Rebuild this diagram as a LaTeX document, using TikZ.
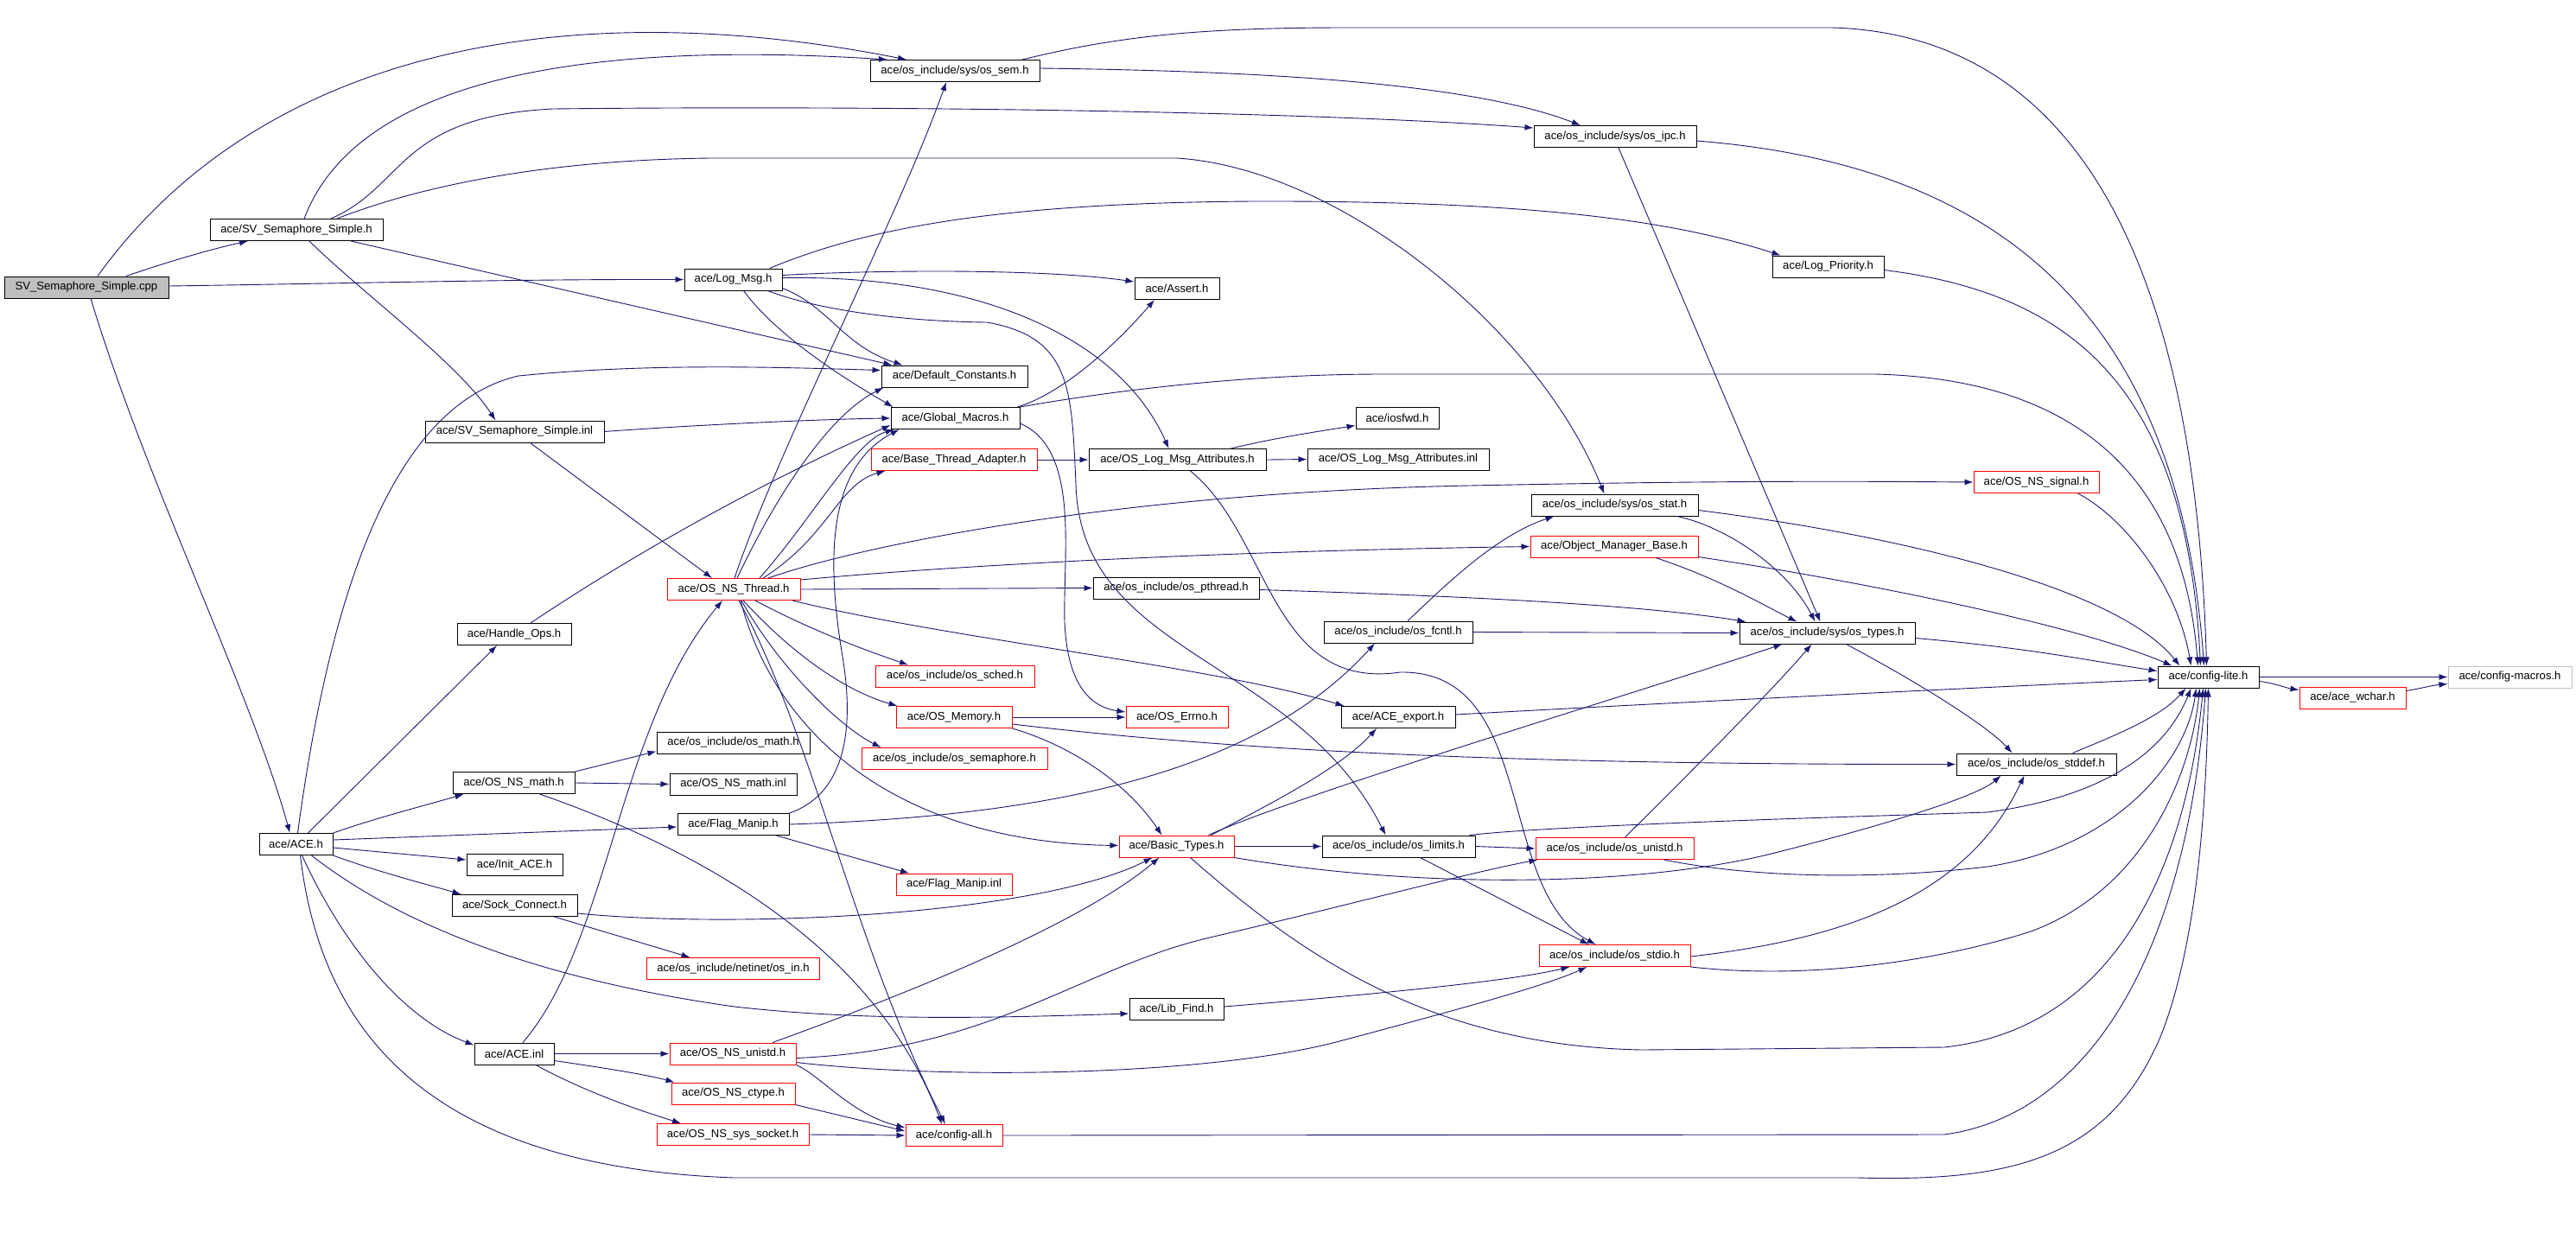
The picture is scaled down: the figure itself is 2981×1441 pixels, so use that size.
\documentclass[tikz,border=0pt]{standalone}
\usepackage{fontspec}
\setmainfont{Liberation Sans}
\usetikzlibrary{arrows.meta}
\definecolor{edgec}{RGB}{25,25,112}
\definecolor{graybox}{RGB}{191,191,191}
\newcommand\nodefont{\fontsize{13.1}{15}\selectfont}
\begin{document}
\begin{tikzpicture}[x=1pt,y=-1pt,
  nb/.style={draw=black, line width=1pt, fill=white, inner sep=0pt, minimum height=25pt, font=\nodefont, text=black},
  rb/.style={nb, draw=red},
  edg/.style={draw=edgec, line width=0.9pt, -{Latex[length=10pt,width=7pt]}}]
\useasboundingbox (0,0) rectangle (2981,1441);
% ---------------- nodes ----------------
\node[nb, fill=graybox, minimum width=190pt] (cpp) at (100,332.5) {SV\_Semaphore\_Simple.cpp};
\node[nb, minimum width=200pt] (svh) at (343,266) {ace/SV\_Semaphore\_Simple.h};
\node[nb, minimum width=113pt] (logmsg) at (848.5,323.5) {ace/Log\_Msg.h};
\node[nb, minimum width=85pt] (ace) at (342.5,977) {ace/ACE.h};
\node[nb, minimum width=196pt] (sem) at (1105,82) {ace/os\_include/sys/os\_sem.h};
\node[nb, minimum width=188pt] (ipc) at (1869,158) {ace/os\_include/sys/os\_ipc.h};
\node[nb, minimum width=193pt] (stat) at (1868.5,584.5) {ace/os\_include/sys/os\_stat.h};
\node[nb, minimum width=169pt] (defc) at (1104.5,435.5) {ace/Default\_Constants.h};
\node[nb, minimum width=207pt] (svinl) at (595.5,499.5) {ace/SV\_Semaphore\_Simple.inl};
\node[nb, minimum width=149pt] (gm) at (1105.5,484) {ace/Global\_Macros.h};
\node[rb, minimum width=154pt] (thread) at (849,682) {ace/OS\_NS\_Thread.h};
\node[nb, minimum width=98pt] (assert) at (1362,334) {ace/Assert.h};
\node[nb, minimum width=129pt] (logprio) at (2115.5,308.5) {ace/Log\_Priority.h};
\node[nb, minimum width=205pt] (olma) at (1362.5,532) {ace/OS\_Log\_Msg\_Attributes.h};
\node[rb, minimum width=118pt] (errno) at (1362,830) {ace/OS\_Errno.h};
\node[nb, minimum width=117pt] (configlite) at (2555.5,783.5) {ace/config-lite.h};
\node[rb, minimum width=192pt] (bta) at (1104,532) {ace/Base\_Thread\_Adapter.h};
\node[nb, minimum width=96pt] (iosfwd) at (1617,483.5) {ace/iosfwd.h};
\node[nb, minimum width=210pt] (olmainl) at (1618,531.5) {ace/OS\_Log\_Msg\_Attributes.inl};
\node[nb, minimum width=185pt] (stddef) at (2356.5,884.5) {ace/os\_include/os\_stddef.h};
\node[rb, minimum width=145pt] (signal) at (2356.5,558) {ace/OS\_NS\_signal.h};
\node[rb, minimum width=194pt] (omb) at (1868,632.5) {ace/Object\_Manager\_Base.h};
\node[nb, minimum width=192pt] (pthread) at (1361,680.5) {ace/os\_include/os\_pthread.h};
\node[rb, minimum width=184pt] (sched) at (1105,782.5) {ace/os\_include/os\_sched.h};
\node[rb, minimum width=134pt] (memory) at (1104,830) {ace/OS\_Memory.h};
\node[rb, minimum width=215pt] (semaphore) at (1104.5,878) {ace/os\_include/os\_semaphore.h};
\node[rb, minimum width=133pt] (basic) at (1361.5,979.5) {ace/Basic\_Types.h};
\node[nb, minimum width=132pt] (export) at (1618,830) {ace/ACE\_export.h};
\node[rb, minimum width=112pt] (configall) at (1104,1314) {ace/config-all.h};
\node[nb, minimum width=203pt] (types) at (2114.5,732.5) {ace/os\_include/sys/os\_types.h};
\node[nb, minimum width=172pt] (fcntl) at (1618,731.5) {ace/os\_include/os\_fcntl.h};
\node[nb, minimum width=177pt] (limits) at (1618.5,979.5) {ace/os\_include/os\_limits.h};
\node[rb, minimum width=183pt] (unistd) at (1868.5,982) {ace/os\_include/os\_unistd.h};
\node[rb, minimum width=175pt] (stdio) at (1868.5,1106) {ace/os\_include/os\_stdio.h};
\node[nb, draw=graybox, minimum width=143pt] (macros) at (2904.5,783.5) {ace/config-macros.h};
\node[rb, minimum width=123pt] (wchar) at (2722.5,807.5) {ace/ace\_wchar.h};
\node[nb, minimum width=132pt] (handle) at (595,734) {ace/Handle\_Ops.h};
\node[nb, minimum width=141pt] (nsmath) at (594.5,906) {ace/OS\_NS\_math.h};
\node[nb, minimum width=177pt] (osmath) at (848.5,859.5) {ace/os\_include/os\_math.h};
\node[nb, minimum width=147pt] (nsmathinl) at (848.5,907.5) {ace/OS\_NS\_math.inl};
\node[nb, minimum width=129pt] (flag) at (848.5,954) {ace/Flag\_Manip.h};
\node[rb, minimum width=134pt] (flaginl) at (1104,1023.5) {ace/Flag\_Manip.inl};
\node[nb, minimum width=111pt] (initace) at (595.5,1001) {ace/Init\_ACE.h};
\node[nb, minimum width=145pt] (sock) at (595.5,1048) {ace/Sock\_Connect.h};
\node[rb, minimum width=200pt] (netin) at (848.5,1121) {ace/os\_include/netinet/os\_in.h};
\node[nb, minimum width=109pt] (libfind) at (1361.5,1168) {ace/Lib\_Find.h};
\node[nb, minimum width=92pt] (aceinl) at (595,1219.5) {ace/ACE.inl};
\node[rb, minimum width=146pt] (nsunistd) at (848,1219.5) {ace/OS\_NS\_unistd.h};
\node[rb, minimum width=143pt] (ctype) at (848.5,1265.5) {ace/OS\_NS\_ctype.h};
\node[rb, minimum width=176pt] (socket) at (848,1313) {ace/OS\_NS\_sys\_socket.h};
% ---------------- edges ----------------
% cpp
\draw[edg] ([xshift=46pt]cpp.north) .. controls (200,301) and (250,287) .. ([xshift=-56pt]svh.south);
\draw[edg] ([yshift=1.5pt]cpp.east) .. controls (400,328) and (600,323) .. (logmsg.west);
\draw[edg] ([xshift=5pt]cpp.south) .. controls (170,560) and (290,800) .. ([xshift=-7pt]ace.north);
\draw[edg] ([xshift=13pt]cpp.north) .. controls (300,60) and (650,-10) .. ([xshift=-56pt]sem.north);
% svh
\draw[edg] ([xshift=9pt]svh.north) .. controls (410,100) and (650,45) .. ([xshift=-78pt]sem.north);
\draw[edg] ([xshift=40pt]svh.north) .. controls (470,215) and (460,135) .. (640,126) .. controls (1000,122) and (1500,128) .. ([yshift=10pt]ipc.west);
\draw[edg] ([xshift=47pt]svh.north) .. controls (500,210) and (650,185) .. (822,183) -- (1362,183) .. controls (1550,195) and (1780,380) .. ([xshift=-12pt]stat.north);
\draw[edg] ([xshift=63pt]svh.south) -- ([xshift=-72pt]defc.north);
\draw[edg] ([xshift=15pt]svh.south) .. controls (420,340) and (530,420) .. ([xshift=-22pt]svinl.north);
% logmsg
\draw[edg] ([xshift=42pt]logmsg.north) .. controls (1000,265) and (1150,235) .. (1450,233) .. controls (1800,232) and (1950,260) .. ([xshift=-55pt]logprio.north);
\draw[edg] ([yshift=5pt]logmsg.east) .. controls (1000,313) and (1200,310) .. ([yshift=8pt]assert.west);
\draw[edg] ([yshift=-10pt]logmsg.east) .. controls (960,355) and (975,400) .. ([xshift=-60pt]defc.north);
\draw[edg] ([xshift=12pt]logmsg.south) .. controls (900,390) and (980,440) .. ([xshift=3pt]gm.north west);
\draw[edg] ([yshift=2pt]logmsg.east) .. controls (1150,318) and (1300,400) .. ([xshift=-10pt]olma.north);
\draw[edg] ([xshift=40pt]logmsg.south) .. controls (950,360) and (1050,372) .. (1142,373) .. controls (1240,390) and (1240,450) .. (1245,560) .. controls (1250,760) and (1500,760) .. ([xshift=-15pt]limits.north);
% ace
\draw[edg] ([xshift=2pt]ace.north) .. controls (380,700) and (450,470) .. (600,435) .. controls (750,420) and (900,425) .. ([yshift=7pt]defc.west);
\draw[edg] ([xshift=14pt]ace.north) -- ([xshift=-20pt]handle.south);
\draw[edg] (ace.north east) .. controls (440,945) and (500,930) .. ([xshift=-58pt]nsmath.south);
\draw[edg] ([yshift=5pt]ace.east) -- ([yshift=-3pt]flag.west);
\draw[edg] ([yshift=-4pt]ace.east) -- ([yshift=6pt]initace.west);
\draw[edg] (ace.south east) .. controls (440,1010) and (500,1025) .. ([xshift=-62pt]sock.north);
\draw[edg] ([xshift=18pt]ace.south) .. controls (450,1060) and (600,1130) .. (850,1165) .. controls (1000,1182) and (1150,1178) .. ([yshift=-5pt]libfind.west);
\draw[edg] ([xshift=7pt]ace.south) .. controls (400,1100) and (470,1180) .. ([yshift=10pt]aceinl.west);
\draw[edg] ([xshift=5pt]ace.south) .. controls (370,1180) and (480,1350) .. (850,1363) -- (2150,1363) .. controls (2330,1368) and (2440,1340) .. (2500,1200) .. controls (2540,1100) and (2553,950) .. (configlite.south);
% sem, ipc
\draw[edg] ([yshift=3pt]sem.east) .. controls (1450,82) and (1700,95) .. ([xshift=-40pt]ipc.north);
\draw[edg] ([xshift=78pt]sem.north) .. controls (1300,40) and (1400,32) .. (1560,32) -- (2120,32) .. controls (2400,40) and (2540,300) .. ([xshift=-2pt]configlite.north);
\draw[edg] ([yshift=-5pt]ipc.east) .. controls (2300,190) and (2520,350) .. ([xshift=-5pt]configlite.north);
\draw[edg] ([xshift=4pt]ipc.south) -- ([xshift=-8pt]types.north);
% svinl, handle
\draw[edg] (svinl.east) .. controls (800,492) and (950,485) .. (gm.west);
\draw[edg] ([xshift=18pt]svinl.south) -- ([xshift=-25pt]thread.north);
\draw[edg] ([xshift=19pt]handle.north) .. controls (750,630) and (900,550) .. ([yshift=-8pt]gm.west);
% gm
\draw[edg] ([xshift=-3pt]gm.north east) .. controls (1230,455) and (1290,400) .. ([xshift=-26pt]assert.south);
\draw[edg] (gm.north east) .. controls (1300,450) and (1450,433) .. (1600,433) -- (2170,433) .. controls (2450,440) and (2530,600) .. ([xshift=-12pt]configlite.north);
\draw[edg] ([yshift=-6pt]gm.east) .. controls (1250,520) and (1230,640) .. (1232,720) .. controls (1235,790) and (1260,818) .. ([yshift=6pt]errno.west);
% thread
\draw[edg] ([xshift=1pt]thread.north) .. controls (900,520) and (1040,250) .. ([xshift=-10pt]sem.south);
\draw[edg] ([xshift=4pt]thread.north) .. controls (900,570) and (960,480) .. ([xshift=3pt]defc.south west);
\draw[edg] ([xshift=30pt]thread.north) .. controls (940,600) and (990,510) .. ([xshift=4pt]gm.south west);
\draw[edg] ([xshift=34pt]thread.north) .. controls (960,620) and (970,560) .. ([xshift=17pt]bta.south west);
\draw[edg] ([xshift=40pt]thread.north) .. controls (1000,630) and (1300,570) .. (1700,562) .. controls (2000,556) and (2150,557) .. (signal.west);
\draw[edg] ([yshift=11pt]thread.east) .. controls (1100,655) and (1400,638) .. (omb.west);
\draw[edg] (thread.east) -- (pthread.west);
\draw[edg] ([xshift=68pt]thread.south) .. controls (1100,740) and (1400,770) .. ([xshift=4pt]export.north west);
\draw[edg] ([xshift=25pt]thread.south) .. controls (940,730) and (1000,752) .. ([xshift=-54pt]sched.north);
\draw[edg] ([xshift=11pt]thread.south) .. controls (920,760) and (980,800) .. ([xshift=2pt]memory.north west);
\draw[edg] ([xshift=9pt]thread.south) .. controls (900,770) and (970,840) .. ([xshift=-85pt]semaphore.north);
\draw[edg] ([xshift=8pt]thread.south) .. controls (900,860) and (1050,975) .. ([yshift=1pt]basic.west);
\draw[edg] ([xshift=6pt]thread.south) .. controls (940,850) and (990,1100) .. ([xshift=-10pt]configall.north);
% bta, olma
\draw[edg] (bta.east) -- (olma.west);
\draw[edg] ([xshift=62pt]olma.north) .. controls (1470,508) and (1520,500) .. ([yshift=-9pt]iosfwd.west);
\draw[edg] (olma.east) -- (olmainl.west);
\draw[edg] ([xshift=15pt]olma.south) .. controls (1470,620) and (1470,800) .. (1620,778) .. controls (1780,775) and (1730,1030) .. ([xshift=-22pt]stdio.north);
% logprio, stat, fcntl, omb, pthread
\draw[edg] ([yshift=-4pt]logprio.east) .. controls (2400,340) and (2530,450) .. ([xshift=-9pt]configlite.north);
\draw[edg] ([yshift=-6pt]stat.east) .. controls (2200,620) and (2450,680) .. ([xshift=-33pt]configlite.north);
\draw[edg] ([xshift=72pt]stat.south) .. controls (2000,610) and (2070,660) .. ([xshift=-14pt]types.north);
\draw[edg] ([xshift=11pt]fcntl.north) .. controls (1670,680) and (1730,620) .. ([xshift=-70pt]stat.south);
\draw[edg] (fcntl.east) -- (types.west);
\draw[edg] ([xshift=48pt]omb.south) .. controls (1990,670) and (2040,700) .. ([xshift=-35pt]types.north);
\draw[edg] ([yshift=-12pt]omb.east) .. controls (2200,680) and (2420,730) .. ([xshift=-42pt]configlite.north);
\draw[edg] ([yshift=-2pt]pthread.east) .. controls (1700,690) and (1900,700) .. ([xshift=8pt]types.north west);
% memory
\draw[edg] (memory.east) -- (errno.west);
\draw[edg] (memory.south east) .. controls (1230,860) and (1300,900) .. ([xshift=-17pt]basic.north);
\draw[edg] ([yshift=-8pt]memory.east) .. controls (1400,865) and (1700,885) .. (stddef.west);
% basic
\draw[edg] (basic.east) -- (limits.west);
\draw[edg] ([xshift=37pt]basic.north) .. controls (1500,920) and (1900,800) .. ([xshift=-52pt]types.south);
\draw[edg] ([xshift=40pt]basic.north) .. controls (1470,930) and (1550,890) .. ([xshift=-25pt]export.south);
\draw[edg] (basic.south east) .. controls (1650,1030) and (1900,1025) .. (2050,988) .. controls (2200,950) and (2290,920) .. ([xshift=-41pt]stddef.south);
\draw[edg] ([xshift=16pt]basic.south) .. controls (1500,1100) and (1650,1210) .. (1900,1215) -- (2250,1212) .. controls (2450,1190) and (2530,1000) .. ([xshift=-6pt]configlite.south);
% types, export, stddef, signal
\draw[edg] ([yshift=-6pt]types.east) .. controls (2350,750) and (2420,765) .. ([yshift=7pt]configlite.west);
\draw[edg] ([xshift=22pt]types.south) .. controls (2220,790) and (2300,840) .. ([xshift=-28pt]stddef.north);
\draw[edg] ([yshift=3pt]export.east) .. controls (1900,815) and (2300,795) .. ([yshift=-3pt]configlite.west);
\draw[edg] ([xshift=42pt]stddef.north) .. controls (2450,850) and (2500,830) .. ([xshift=-26pt]configlite.south);
\draw[edg] ([xshift=48pt]signal.south) .. controls (2460,600) and (2520,680) .. ([xshift=-20pt]configlite.north);
% limits, unistd, stdio
\draw[edg] (limits.east) -- (unistd.west);
\draw[edg] ([xshift=25pt]limits.south) -- ([xshift=-30pt]stdio.north);
\draw[edg] ([xshift=82pt]limits.north) .. controls (1800,955) and (2150,945) .. (2300,940) .. controls (2450,920) and (2510,860) .. ([xshift=-20pt]configlite.south);
\draw[edg] ([xshift=12pt]unistd.north) .. controls (1950,900) and (2050,800) .. ([xshift=-18pt]types.south);
\draw[edg] ([xshift=57pt]unistd.south) .. controls (2050,1020) and (2200,1015) .. (2300,1003) .. controls (2450,980) and (2530,880) .. ([xshift=-14pt]configlite.south);
\draw[edg] ([yshift=-1pt]stdio.east) .. controls (2150,1085) and (2280,1030) .. ([xshift=-14pt]stddef.south);
\draw[edg] (stdio.south east) .. controls (2100,1135) and (2250,1110) .. (2350,1078) .. controls (2480,1030) and (2535,900) .. ([xshift=-10pt]configlite.south);
% nsmath
\draw[edg] (nsmath.north east) -- ([yshift=-10pt]osmath.west);
\draw[edg] (nsmath.east) -- (nsmathinl.west);
\draw[edg] ([xshift=30pt]nsmath.south) .. controls (800,980) and (1010,1090) .. ([xshift=-14pt]configall.north);
% flag
\draw[edg] (flag.north east) .. controls (975,920) and (990,850) .. (975,760) .. controls (955,640) and (960,540) .. ([xshift=10pt]gm.south west);
\draw[edg] (flag.east) .. controls (1200,945) and (1450,900) .. ([xshift=-27pt]fcntl.south);
\draw[edg] ([xshift=50pt]flag.south) -- ([xshift=-52pt]flaginl.north);
% sock, libfind
\draw[edg] ([yshift=-9pt]sock.east) .. controls (850,1075) and (1200,1060) .. ([xshift=-28pt]basic.south);
\draw[edg] ([xshift=46pt]sock.south) -- ([xshift=-50pt]netin.north);
\draw[edg] ([yshift=3pt]libfind.east) .. controls (1600,1150) and (1750,1135) .. ([xshift=-52pt]stdio.south);
% aceinl
\draw[edg] ([xshift=10pt]aceinl.north) .. controls (705,1090) and (715,840) .. ([xshift=-13pt]thread.south);
\draw[edg] (aceinl.east) -- (nsunistd.west);
\draw[edg] ([yshift=-8pt]aceinl.east) .. controls (700,1236) and (750,1244) .. ([xshift=4pt]ctype.north west);
\draw[edg] ([xshift=25pt]aceinl.south) .. controls (680,1265) and (740,1285) .. ([xshift=-60pt]socket.north);
% nsunistd
\draw[edg] ([xshift=46pt]nsunistd.north) .. controls (1050,1150) and (1250,1070) .. ([xshift=-20pt]basic.south);
\draw[edg] ([yshift=-5pt]nsunistd.east) .. controls (1150,1215) and (1250,1120) .. (1400,1085) .. controls (1550,1050) and (1700,1010) .. ([xshift=3pt]unistd.south west);
\draw[edg] ([yshift=-10pt]nsunistd.east) .. controls (1100,1250) and (1400,1245) .. (1550,1205) .. controls (1700,1165) and (1790,1140) .. ([xshift=-32pt]stdio.south);
\draw[edg] (nsunistd.south east) .. controls (950,1245) and (985,1290) .. ([yshift=9pt]configall.west);
% ctype, socket, configall
\draw[edg] (ctype.south east) -- ([yshift=5pt]configall.west);
\draw[edg] (socket.east) -- (configall.west);
\draw[edg] (configall.east) -- (2250,1313) .. controls (2420,1290) and (2530,1100) .. ([xshift=-3pt]configlite.south);
% configlite, wchar
\draw[edg] (configlite.east) -- (macros.west);
\draw[edg] ([yshift=-5pt]configlite.east) .. controls (2630,790) and (2645,796) .. ([yshift=9pt]wchar.west);
\draw[edg] ([yshift=8pt]wchar.east) .. controls (2800,797) and (2815,793) .. ([yshift=-8pt]macros.west);
\end{tikzpicture}
\end{document}
